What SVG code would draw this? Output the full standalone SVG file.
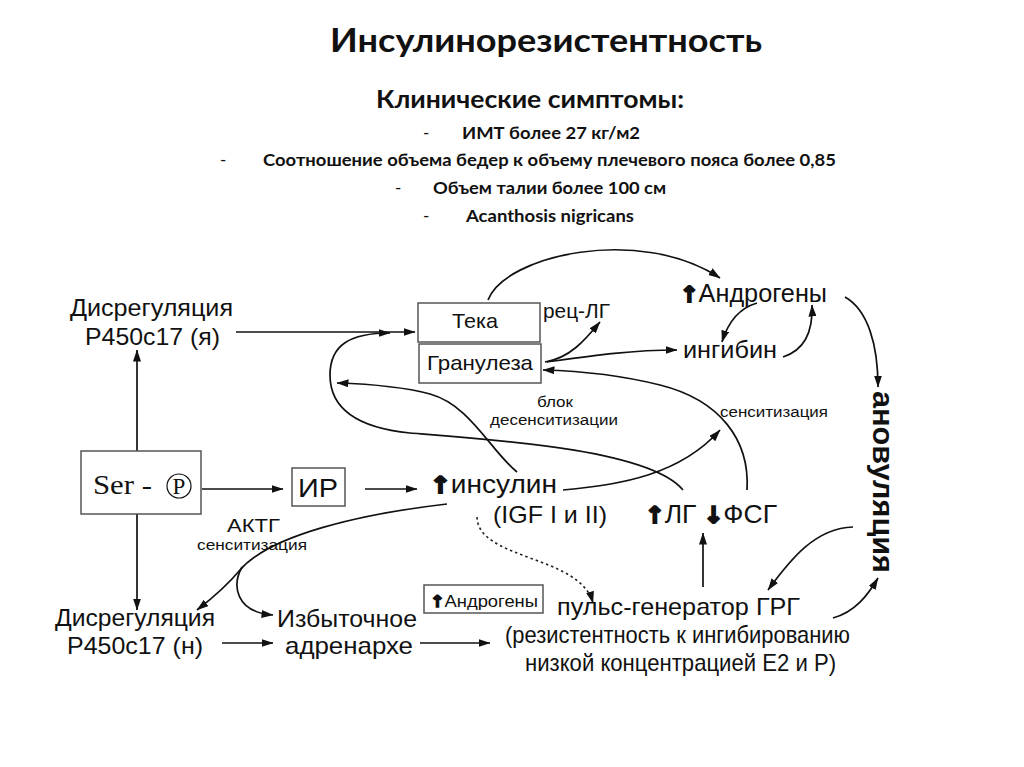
<svg xmlns="http://www.w3.org/2000/svg" width="1024" height="767" viewBox="0 0 1024 767">
<defs>
<marker id="ah" viewBox="0 0 12 8" refX="11.5" refY="4" markerWidth="12" markerHeight="8" markerUnits="userSpaceOnUse" orient="auto">
<path d="M0,0 L12,4 L0,8 z" fill="#111"/>
</marker>
<style>
.hd{font-family:Lato,"Liberation Sans",sans-serif;font-weight:bold;fill:#111}
.ds{font-family:Lato,"Liberation Sans",sans-serif;fill:#111;font-size:17px}
.t{font-family:"Liberation Sans",Arial,sans-serif;fill:#111}
.sf{font-family:"Liberation Serif","Times New Roman",serif;fill:#111}
.arr{font-family:"DejaVu Sans",sans-serif;font-weight:bold;stroke:#111;stroke-width:2;stroke-linejoin:miter}
.arrs{font-family:"DejaVu Sans",sans-serif;font-weight:bold;stroke:#111;stroke-width:1.4;stroke-linejoin:miter}
.box{fill:#fff;stroke:#555;stroke-width:1.5}
.c{fill:none;stroke:#111;stroke-width:1.7;marker-end:url(#ah)}
.dot{fill:none;stroke:#222;stroke-width:1.6;stroke-dasharray:2.5 3;marker-end:url(#ah)}
</style>
</defs>
<rect width="1024" height="767" fill="#fff"/>

<g id="header">
<text class="hd" x="330" y="52" font-size="33" textLength="432" lengthAdjust="spacingAndGlyphs">Инсулинорезистентность</text>
<text class="hd" x="376" y="108" font-size="25" textLength="308" lengthAdjust="spacingAndGlyphs">Клинические симптомы:</text>
<text class="ds" x="423" y="139">-</text>
<text class="hd" x="462" y="139" font-size="17" textLength="178" lengthAdjust="spacingAndGlyphs">ИМТ более 27 кг/м2</text>
<text class="ds" x="220" y="166">-</text>
<text class="hd" x="263" y="166" font-size="17" textLength="573" lengthAdjust="spacingAndGlyphs">Соотношение объема бедер к объему плечевого пояса более 0,85</text>
<text class="ds" x="395" y="194">-</text>
<text class="hd" x="433" y="194" font-size="17" textLength="233" lengthAdjust="spacingAndGlyphs">Объем талии более 100 см</text>
<text class="ds" x="423" y="222">-</text>
<text class="hd" x="466" y="222" font-size="17" textLength="168" lengthAdjust="spacingAndGlyphs">Acanthosis nigricans</text>
</g>

<g id="connectors">
<path class="c" d="M236,332 L415,332"/>
<path class="c" d="M137,451 L137,350"/>
<path class="c" d="M202,489 L283,489"/>
<path class="c" d="M365,489 L417,489"/>
<path class="c" d="M137,514 L137,610"/>
<path class="c" d="M222,643 L273,643"/>
<path class="c" d="M420,643 L490,643"/>
<path class="c" d="M703,587 L703,533"/>
<path class="c" d="M488,300 C505,255 640,225 720,278"/>
<path class="c" d="M545,362 C570,358 585,340 600,322"/>
<path class="c" d="M547,362 C590,356 630,350 677,350"/>
<path class="c" d="M757,303 C740,308 728,322 722,342"/>
<path class="c" d="M783,357 C805,350 813,330 812,305"/>
<path class="c" d="M845,297 C868,310 878,345 878,387"/>
<path class="c" d="M853,527 C815,528 790,560 768,590"/>
<path class="c" d="M833,618 C855,612 868,595 878,578"/>
<path class="c" d="M683,490 C650,450 500,440 410,433 C360,428 330,410 330,375 C330,345 350,333 390,333"/>
<path class="c" d="M517,472 C490,450 470,405 430,394 C400,386 370,384 337,383"/>
<path class="c" d="M747,490 C750,440 720,400 660,385 C620,375 580,371 543,370"/>
<path class="c" d="M563,490 C620,485 680,475 720,430"/>
<path class="c" d="M447,504 C360,514 270,535 240,570 C225,588 210,600 197,610"/>
<path class="c" d="M242,567 C232,585 235,612 273,615"/>
<path class="dot" d="M477,517 C478,560 580,555 593,603"/>
</g>

<g id="dysreg-top">
<text class="t" x="70" y="316" font-size="24" textLength="163" lengthAdjust="spacingAndGlyphs">Дисрегуляция</text>
<text class="t" x="85" y="345" font-size="24" textLength="135" lengthAdjust="spacingAndGlyphs">P450c17 (я)</text>
</g>

<g id="teka">
<rect class="box" x="418" y="303" width="122" height="39"/>
<text class="t" x="452" y="328" font-size="21" textLength="46" lengthAdjust="spacingAndGlyphs">Тека</text>
</g>

<g id="granuleza">
<rect class="box" x="419" y="344" width="122" height="39"/>
<text class="t" x="427" y="370" font-size="21" textLength="106" lengthAdjust="spacingAndGlyphs">Гранулеза</text>
</g>

<g id="rec-lg">
<text class="t" x="543" y="318" font-size="21" textLength="67" lengthAdjust="spacingAndGlyphs">рец-ЛГ</text>
</g>

<g id="androgens-top">
<text class="t" x="680" y="302" font-size="25" textLength="147" lengthAdjust="spacingAndGlyphs"><tspan class="arr" font-size="22">↑</tspan>Андрогены</text>
</g>

<g id="ingibin">
<text class="t" x="683" y="358" font-size="24" textLength="94" lengthAdjust="spacingAndGlyphs">ингибин</text>
</g>

<g id="labels">
<text class="t" x="720" y="417" font-size="14" textLength="108" lengthAdjust="spacingAndGlyphs">сенситизация</text>
<text class="t" x="537" y="407" font-size="14" textLength="36" lengthAdjust="spacingAndGlyphs">блок</text>
<text class="t" x="490" y="425" font-size="14" textLength="128" lengthAdjust="spacingAndGlyphs">десенситизации</text>
<text class="t" x="227" y="532" font-size="19" textLength="53" lengthAdjust="spacingAndGlyphs">АКТГ</text>
<text class="t" x="197" y="550" font-size="14" textLength="110" lengthAdjust="spacingAndGlyphs">сенситизация</text>
</g>

<g id="ser-p">
<rect class="box" x="81" y="451" width="120" height="63"/>
<text class="sf" x="93" y="494" font-size="28" textLength="59" lengthAdjust="spacingAndGlyphs">Ser -</text>
<circle cx="179" cy="486" r="12" fill="none" stroke="#111" stroke-width="1.2"/>
<text class="sf" x="179" y="494" font-size="23" text-anchor="middle">P</text>
</g>

<g id="ir">
<rect class="box" x="292" y="468" width="53" height="38"/>
<text class="t" x="298" y="497" font-size="25" textLength="40" lengthAdjust="spacingAndGlyphs">ИР</text>
</g>

<g id="insulin">
<text class="t" x="430" y="493" font-size="26" textLength="127" lengthAdjust="spacingAndGlyphs"><tspan class="arr" font-size="23">↑</tspan>инсулин</text>
<text class="t" x="493" y="523" font-size="24" textLength="114" lengthAdjust="spacingAndGlyphs">(IGF I и II)</text>
</g>

<g id="lg-fsg">
<text class="t" x="645" y="523" font-size="26" textLength="132" lengthAdjust="spacingAndGlyphs"><tspan class="arr" font-size="23">↑</tspan>ЛГ <tspan class="arr" font-size="23">↓</tspan>ФСГ</text>
</g>

<g id="dysreg-bottom">
<text class="t" x="55" y="626" font-size="24" textLength="160" lengthAdjust="spacingAndGlyphs">Дисрегуляция</text>
<text class="t" x="67" y="654" font-size="24" textLength="136" lengthAdjust="spacingAndGlyphs">P450c17 (н)</text>
</g>

<g id="adrenarche">
<text class="t" x="277" y="627" font-size="24" textLength="140" lengthAdjust="spacingAndGlyphs">Избыточное</text>
<text class="t" x="285" y="654" font-size="24" textLength="128" lengthAdjust="spacingAndGlyphs">адренархе</text>
</g>

<g id="androgens-box">
<rect class="box" x="424" y="585" width="119" height="28"/>
<text class="t" x="430" y="607" font-size="17" textLength="108" lengthAdjust="spacingAndGlyphs"><tspan class="arrs" font-size="16">↑</tspan>Андрогены</text>
</g>

<g id="pulse-generator">
<text class="t" x="557" y="615" font-size="24" textLength="243" lengthAdjust="spacingAndGlyphs">пульс-генератор ГРГ</text>
<text class="t" x="505" y="643" font-size="24" textLength="345" lengthAdjust="spacingAndGlyphs">(резистентность к ингибированию</text>
<text class="t" x="525" y="671" font-size="24" textLength="311" lengthAdjust="spacingAndGlyphs">низкой концентрацией E2 и P)</text>
</g>

<g id="anovulation">
<text class="t" x="873" y="391" font-size="29" font-weight="bold" textLength="182" lengthAdjust="spacingAndGlyphs" transform="rotate(90 873 391)">ановуляция</text>
</g>
</svg>
